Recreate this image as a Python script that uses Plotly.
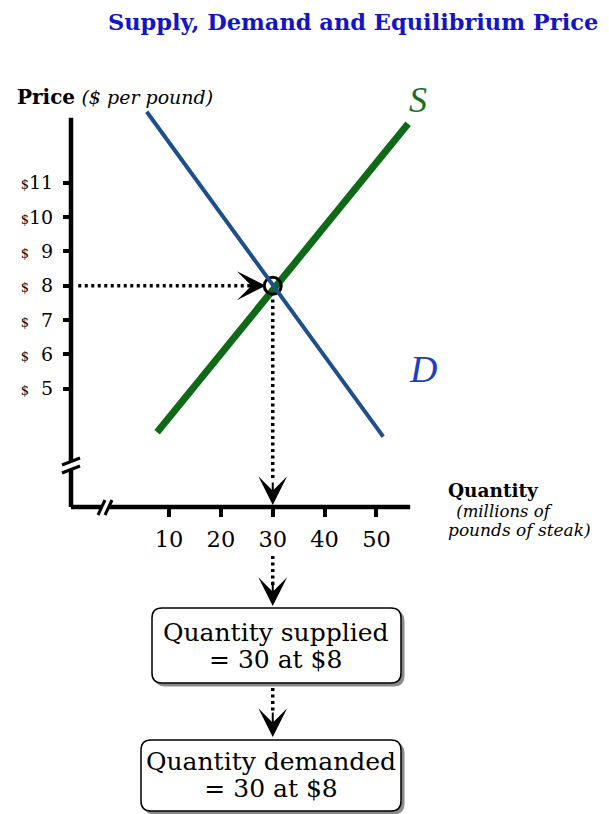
import plotly.graph_objects as go

# ---------------- data ----------------
price_ticks = [5, 6, 7, 8, 9, 10, 11]
price_labels = ["$\u2007" + str(p) if p < 10 else "$" + str(p) for p in price_ticks]
qty_ticks = [10, 20, 30, 40, 50]
supply_q = [7.7, 56.1]
supply_p = [3.73, 12.72]
demand_q = [5.7, 51.3]
demand_p = [13.07, 3.60]
eq_q = [30]
eq_p = [8]
x_range = [-8.9, 93.1]
y_range = [1.55, 14.58]
y_axis_top = 12.9
x_axis_end = 56.5
guide_h_q = [-7.5, 26.5]
guide_v_p = [7.6, 2.3]

# ---------------- layout geometry (page pixels) ----------------
FIG_W, FIG_H = 609, 814
OFF = 8  # default body margin of the html page
L, R, T, B = 71, 600, 60, 507
W, H = R - L, B - T
FONT = "DejaVu Serif"


def px_x(px):
    return (px - L) / W


def px_y(py):
    return (B - py) / H


fig = go.Figure()

DOT = "3px,3.5px"

# dotted guides
fig.add_trace(go.Scatter(x=guide_h_q, y=[eq_p[0]] * 2, mode="lines",
                         line=dict(color="black", width=3.5, dash=DOT),
                         hoverinfo="skip", showlegend=False))
fig.add_trace(go.Scatter(x=[eq_q[0]] * 2, y=guide_v_p, mode="lines",
                         line=dict(color="black", width=3.5, dash=DOT),
                         hoverinfo="skip", showlegend=False))
# supply
fig.add_trace(go.Scatter(x=supply_q, y=supply_p, mode="lines",
                         line=dict(color="#0f6a17", width=7),
                         showlegend=False))
# equilibrium circle
fig.add_trace(go.Scatter(x=eq_q, y=eq_p, mode="markers",
                         marker=dict(symbol="circle-open", size=17, color="black",
                                     line=dict(width=3, color="black")),
                         showlegend=False))
# demand
fig.add_trace(go.Scatter(x=demand_q, y=demand_p, mode="lines",
                         line=dict(color="#1d4f8c", width=4),
                         showlegend=False))

shapes = []
# axis lines
shapes.append(dict(type="line", xref="paper", yref="y", x0=0, x1=0,
                   y0=y_range[0], y1=y_axis_top, line=dict(color="black", width=4.5)))
shapes.append(dict(type="line", xref="x", yref="paper", x0=x_range[0] - 0.45, x1=x_axis_end,
                   y0=0, y1=0, line=dict(color="black", width=4.5)))


def seg(x0, y0, x1, y1, color="black", width=3):
    return dict(type="line", xref="paper", yref="paper",
                x0=px_x(x0), y0=px_y(y0), x1=px_x(x1), y1=px_y(y1),
                line=dict(color=color, width=width))


def poly(points, fill, line_color=None, width=0):
    d = "M" + " L".join(f"{px_x(a):.5f},{px_y(b):.5f}" for a, b in points) + " Z"
    return dict(type="path", xref="paper", yref="paper", path=d, fillcolor=fill,
                line=dict(color=line_color or fill, width=width))


# y-axis break
shapes.append(poly([(62, 465), (80, 458), (80, 466), (62, 473)], "white"))
shapes.append(seg(62, 465, 80, 458))
shapes.append(seg(62, 473, 80, 466))
# x-axis break
shapes.append(poly([(98, 515), (105, 500), (112, 500), (105, 515)], "white"))
shapes.append(seg(98, 515, 105, 500))
shapes.append(seg(105, 515, 112, 500))

# dotted segments below the axis
for ya, yb in [(556, 586), (688, 714)]:
    shapes.append(dict(type="line", xref="x", yref="paper", x0=eq_q[0], x1=eq_q[0],
                       y0=px_y(ya), y1=px_y(yb),
                       line=dict(color="black", width=3.5, dash=DOT)))


def rrect(x0, y0, x1, y1, r):
    def P(a, b):
        return f"{px_x(a):.5f},{px_y(b):.5f}"
    d = (f"M{P(x0 + r, y0)} L{P(x1 - r, y0)} Q{P(x1, y0)} {P(x1, y0 + r)} "
         f"L{P(x1, y1 - r)} Q{P(x1, y1)} {P(x1 - r, y1)} L{P(x0 + r, y1)} "
         f"Q{P(x0, y1)} {P(x0, y1 - r)} L{P(x0, y0 + r)} Q{P(x0, y0)} {P(x0 + r, y0)} Z")
    return d


for bx0, by0, bx1, by1 in [(152, 608, 401, 683), (141, 740, 401, 811)]:
    shapes.append(dict(type="path", xref="paper", yref="paper",
                       path=rrect(bx0 + 3, by0 + 3, bx1 + 3, by1 + 3, 10),
                       fillcolor="#8a8a8a", line=dict(color="#8a8a8a", width=1)))
    shapes.append(dict(type="path", xref="paper", yref="paper",
                       path=rrect(bx0, by0, bx1, by1, 10),
                       fillcolor="white", line=dict(color="black", width=1.5)))

ann = []
ann.append(dict(xref="paper", yref="paper", x=px_x(353), y=px_y(22), showarrow=False,
                text="<b>Supply, Demand and Equilibrium Price</b>",
                font=dict(family=FONT, size=22.5, color="#1414c8"),
                xanchor="center", yanchor="middle"))
ann.append(dict(xref="paper", yref="paper", x=px_x(15), y=px_y(97), showarrow=False,
                text="<b>Price</b> <i><span style='font-size:19px'>($ per pound)</span></i>",
                font=dict(family=FONT, size=20, color="black"),
                xanchor="left", yanchor="middle"))
ann.append(dict(xref="paper", yref="paper", x=px_x(446), y=px_y(510), showarrow=False,
                text=("<b><span style='font-size:18.5px'>Quantity</span></b><br>"
                      "<i><span style='font-size:16.5px'>\u2002(millions of</span></i><br>"
                      "<i><span style='font-size:17px'>pounds of steak)</span></i>"),
                font=dict(family=FONT, size=15, color="black"), align="left",
                xanchor="left", yanchor="middle"))
# curve labels
ann.append(dict(xref="x", yref="y", x=supply_q[-1], y=supply_p[-1], xshift=10, yshift=24,
                showarrow=False, text="<i>S</i>",
                font=dict(family="Liberation Serif", size=36, color="#16701e")))
ann.append(dict(xref="x", yref="y", x=demand_q[-1], y=demand_p[-1], xshift=40, yshift=68,
                showarrow=False, text="<i>D</i>",
                font=dict(family="Liberation Serif", size=38, color="#1e3fc4")))
# box texts
for l1, l2, yy, xc in [("Quantity supplied", "= 30 at $8", 646, 276),
                       ("Quantity demanded", "= 30 at $8", 775, 271)]:
    ann.append(dict(xref="paper", yref="paper", x=px_x(xc), y=px_y(yy), showarrow=False,
                    text=(f"<span style='font-size:25px'>{l1}</span><br>"
                          f"<span style='font-size:25px'>{l2}</span>"),
                    font=dict(family=FONT, size=20.5, color="black"), align="center",
                    xanchor="center", yanchor="middle"))

# arrowheads
arrow_style = dict(showarrow=True, text="", arrowhead=3, arrowsize=2.4, arrowwidth=2,
                   arrowcolor="black")
ann.append(dict(xref="x", yref="y", x=eq_q[0], y=eq_p[0], ax=-26, ay=0, standoff=7, **arrow_style))
ann.append(dict(xref="x", yref="y", x=eq_q[0], y=y_range[0], ax=0, ay=-26, standoff=2, **arrow_style))
ann.append(dict(xref="x", yref="paper", x=eq_q[0], y=px_y(606), ax=0, ay=-26, standoff=0, **arrow_style))
ann.append(dict(xref="x", yref="paper", x=eq_q[0], y=px_y(737), ax=0, ay=-26, standoff=0, **arrow_style))

dollar = "<span style='font-size:13px;color:black'>$</span>"

fig.update_layout(
    width=FIG_W, height=FIG_H,
    margin=dict(l=L - OFF, r=FIG_W - (R - OFF), t=T - OFF, b=FIG_H - (B - OFF), pad=0),
    paper_bgcolor="white", plot_bgcolor="white",
    showlegend=False,
    shapes=shapes, annotations=ann,
    xaxis=dict(range=x_range, showgrid=False, zeroline=False, showline=False,
               tickvals=qty_ticks, ticktext=[str(v) for v in qty_ticks],
               ticks="outside", ticklen=9, tickwidth=3.5, tickcolor="black",
               tickfont=dict(family=FONT, size=22.5, color="black"),
               ticklabelstandoff=3, fixedrange=True),
    yaxis=dict(range=y_range, showgrid=False, zeroline=False, showline=False,
               tickvals=price_ticks,
               ticktext=[dollar + lab[1:] for lab in price_labels],
               ticks="outside", ticklen=7, tickwidth=3.5, tickcolor="black",
               tickfont=dict(family=FONT, size=19, color="black"),
               ticklabelstandoff=6, fixedrange=True),
)

fig.write_html("out.html")
